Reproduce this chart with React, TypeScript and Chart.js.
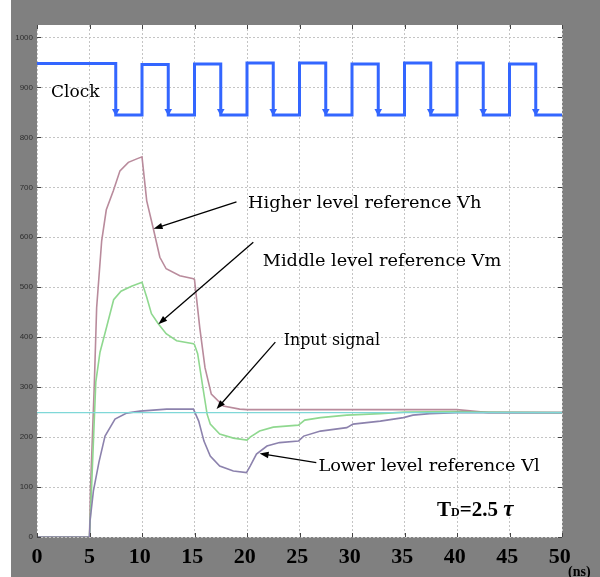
import { useEffect, useRef } from "react";
import { Chart, registerables } from "chart.js";

Chart.register(...registerables);

// ---------------- data ----------------
const xTicks = [0, 5, 10, 15, 20, 25, 30, 35, 40, 45, 50];
const yTicks = [0, 100, 200, 300, 400, 500, 600, 700, 800, 900, 1000];

const clockX = [0, 7.5, 7.5, 10, 10, 12.5, 12.5, 15, 15, 17.5, 17.5, 20, 20, 22.5, 22.5, 25, 25, 27.5, 27.5, 30, 30, 32.5, 32.5, 35, 35, 37.5, 37.5, 40, 40, 42.5, 42.5, 45, 45, 47.5, 47.5, 50];
const clockY = [948, 948, 845, 845, 946, 946, 845, 845, 947, 947, 845, 845, 949, 949, 845, 845, 949, 949, 845, 845, 947, 947, 845, 845, 949, 949, 845, 845, 949, 949, 845, 845, 947, 947, 845, 845];

const vhX = [0, 5, 5.1, 5.45, 5.68, 6.16, 6.6, 7.27, 7.9, 8.7, 9.5, 10, 10.45, 11.08, 11.7, 12.3, 13.6, 14.9, 15, 15.5, 16, 16.6, 17.75, 19.3, 20, 25, 30, 35, 40, 41.5, 43, 50];
const vhY = [0, 0, 100, 300, 459, 593, 655, 693, 733, 750, 757, 761, 673, 617, 560, 537, 523, 517, 515, 419, 339, 286, 262, 256, 255, 255, 255, 255, 255, 252, 249, 249];

const vmX = [0, 5, 5.2, 5.6, 6.0, 6.5, 7.3, 8, 9, 10, 10.45, 10.9, 11.55, 12.3, 13.3, 14.9, 15, 15.3, 15.8, 16.2, 16.5, 17.4, 18.7, 20, 20.3, 21.2, 22.5, 24.9, 25.5, 27, 29.5, 32.7, 35, 40, 42, 50];
const vmY = [0, 0, 100, 310, 370, 410, 475, 492, 502, 510, 480, 447, 427, 407, 393, 387, 385, 367, 299, 246, 226, 206, 198, 194, 200, 212, 220, 224, 234, 239, 244, 247, 250, 251, 250, 249];

const vlX = [0, 5, 5.05, 5.37, 5.9, 6.48, 7.43, 8.54, 9.8, 12.35, 14.9, 15.4, 15.9, 16.5, 17.4, 18.7, 19.95, 20.3, 20.9, 21.9, 23.1, 24.9, 25.4, 27, 29.5, 30.1, 32.7, 34.9, 35.8, 37.4, 40, 50];
const vlY = [0, 0, 32, 92, 150, 202, 236, 248, 252, 256, 256, 232, 192, 162, 142, 132, 129, 142, 166, 182, 189, 192, 202, 212, 219, 226, 232, 239, 244, 247, 249, 249];

const inputX = [0, 50];
const inputY = [249, 249];

const labelClock = "Clock";
const labelVh = "Higher level reference Vh";
const labelVm = "Middle level reference Vm";
const labelIn = "Input signal";
const labelVl = "Lower level reference Vl";

// annotation placement (data coordinates) and horizontal text stretch
const notes = [
  { text: labelVh, tx: 20.1, ty: 659, from: [19.0, 671], to: [11.1, 617], stretch: 1.075 },
  { text: labelVm, tx: 21.5, ty: 543, from: [20.6, 590], to: [11.55, 426], stretch: 1.075 },
  { text: labelIn, tx: 23.5, ty: 385, from: [22.7, 390], to: [17.1, 256], stretch: 0.96 },
  { text: labelVl, tx: 26.8, ty: 132, from: [26.6, 149], to: [21.2, 167], stretch: 1.075 },
];
const clockLabelPos = [1.33, 880];
const tdPos = [38.1, 42];

const zip = (xs: number[], ys: number[]) => xs.map((x, i) => ({ x, y: ys[i] }));

const SERIF = "'DejaVu Serif', serif";
const TIMES = "'Liberation Serif', 'Times New Roman', serif";

function arrow(ctx: CanvasRenderingContext2D, x0: number, y0: number, x1: number, y1: number) {
  const ang = Math.atan2(y1 - y0, x1 - x0);
  const len = 9;
  const hw = 3.2;
  ctx.save();
  ctx.strokeStyle = "#000";
  ctx.fillStyle = "#000";
  ctx.lineWidth = 1.3;
  ctx.beginPath();
  ctx.moveTo(x0, y0);
  ctx.lineTo(x1 - Math.cos(ang) * len * 0.8, y1 - Math.sin(ang) * len * 0.8);
  ctx.stroke();
  ctx.beginPath();
  ctx.moveTo(x1, y1);
  ctx.lineTo(x1 - Math.cos(ang) * len - Math.sin(ang) * hw, y1 - Math.sin(ang) * len + Math.cos(ang) * hw);
  ctx.lineTo(x1 - Math.cos(ang) * len + Math.sin(ang) * hw, y1 - Math.sin(ang) * len - Math.cos(ang) * hw);
  ctx.closePath();
  ctx.fill();
  ctx.restore();
}

const decorPlugin = {
  id: "decor",
  beforeDraw(chart: any) {
    const { ctx, chartArea: a, width, height } = chart;
    ctx.save();
    ctx.fillStyle = "#808080";
    ctx.fillRect(0, 0, width, height);
    ctx.fillStyle = "#ffffff";
    ctx.fillRect(0, 0, 11, height);
    ctx.fillRect(a.left, a.top, a.right - a.left, a.bottom - a.top);
    ctx.restore();
  },
  afterDatasetsDraw(chart: any) {
    const { ctx, chartArea: a } = chart;
    const xs = chart.scales.x;
    const ys = chart.scales.y;
    const px = (v: number) => xs.getPixelForValue(v);
    const py = (v: number) => ys.getPixelForValue(v);

    // clock arrowheads on falling edges
    ctx.save();
    ctx.fillStyle = "#3366ff";
    for (let i = 1; i < clockX.length; i++) {
      if (clockX[i] === clockX[i - 1] && clockY[i] < clockY[i - 1]) {
        const x = px(clockX[i]);
        const y = py(clockY[i]);
        ctx.beginPath();
        ctx.moveTo(x, y + 1);
        ctx.lineTo(x - 3.8, y - 6);
        ctx.lineTo(x + 3.8, y - 6);
        ctx.closePath();
        ctx.fill();
      }
    }
    ctx.restore();

    // tick marks inside the box
    ctx.save();
    ctx.strokeStyle = "#444";
    ctx.lineWidth = 1;
    xTicks.forEach((t) => {
      const x = Math.round(px(t)) + 0.5;
      ctx.beginPath();
      ctx.moveTo(x, a.bottom);
      ctx.lineTo(x, a.bottom - 4);
      ctx.moveTo(x, a.top);
      ctx.lineTo(x, a.top + 4);
      ctx.stroke();
    });
    yTicks.forEach((t) => {
      const y = Math.round(py(t)) + 0.5;
      ctx.beginPath();
      ctx.moveTo(a.left, y);
      ctx.lineTo(a.left + 4, y);
      ctx.moveTo(a.right, y);
      ctx.lineTo(a.right - 4, y);
      ctx.stroke();
    });
    ctx.restore();

    // text annotations
    ctx.save();
    ctx.fillStyle = "#000";
    ctx.textBaseline = "alphabetic";
    ctx.textAlign = "left";
    ctx.font = `17px ${SERIF}`;
    ctx.fillText(labelClock, px(clockLabelPos[0]), py(clockLabelPos[1]));
    notes.forEach((n) => {
      ctx.save();
      ctx.font = `16.5px ${SERIF}`;
      ctx.translate(px(n.tx), py(n.ty));
      ctx.scale(n.stretch, 1);
      ctx.fillText(n.text, 0, 0);
      ctx.restore();
      arrow(ctx, px(n.from[0]), py(n.from[1]), px(n.to[0]), py(n.to[1]));
    });

    // TD = 2.5 tau
    let x = px(tdPos[0]);
    const by = py(tdPos[1]);
    ctx.font = `bold 21px ${TIMES}`;
    ctx.fillText("T", x, by);
    x += ctx.measureText("T").width;
    ctx.font = `bold 12px ${TIMES}`;
    ctx.fillText("D", x, by);
    x += ctx.measureText("D").width;
    ctx.font = `bold 21px ${TIMES}`;
    ctx.fillText("=2.5 ", x, by);
    x += ctx.measureText("=2.5 ").width;
    ctx.font = `italic bold 23px ${TIMES}`;
    ctx.fillText("\u03C4", x, by);

    // (ns) unit
    ctx.font = `bold 14px ${TIMES}`;
    ctx.fillText("(ns)", px(50) + 6, a.bottom + 39);
    ctx.restore();
  },
};

export default function App() {
  const ref = useRef<HTMLCanvasElement | null>(null);

  useEffect(() => {
    if (!ref.current) return;
    const chart = new Chart(ref.current, {
      type: "line",
      data: {
        datasets: [
          { label: "Input signal", data: zip(inputX, inputY), borderColor: "#7fd8d8", borderWidth: 1.2, pointRadius: 0 },
          { label: "Vl", data: zip(vlX, vlY), borderColor: "#8c82ad", borderWidth: 1.6, pointRadius: 0 },
          { label: "Vm", data: zip(vmX, vmY), borderColor: "#8fd88f", borderWidth: 1.6, pointRadius: 0 },
          {
            label: "Vh",
            data: zip(vhX, vhY),
            borderColor: "#b98b9c",
            borderWidth: 1.6,
            pointRadius: 0,
            segment: {
              borderColor: (c: any) => (c.p0.parsed.y === 0 && c.p1.parsed.y === 0 ? "#e06a78" : undefined),
            },
          },
          { label: "Clock", data: zip(clockX, clockY), borderColor: "#3366ff", borderWidth: 3, pointRadius: 0 },
        ],
      },
      options: {
        animation: false,
        responsive: false,
        events: [],
        layout: { autoPadding: false, padding: { top: 25, right: 38, left: 0, bottom: 0 } },
        plugins: { legend: { display: false }, tooltip: { enabled: false } },
        scales: {
          x: {
            type: "linear",
            min: 0,
            max: 50,
            afterBuildTicks: (s: any) => {
              s.ticks = xTicks.map((v) => ({ value: v }));
            },
            afterFit: (s: any) => {
              s.height = 40;
            },
            ticks: {
              color: "#000",
              font: { family: "'Liberation Serif', serif", size: 22, weight: "bold" },
              padding: 7,
              maxRotation: 0,
              autoSkip: false,
              callback: (v: any) => (v >= 10 ? `${v}\u2009` : `${v}`),
            },
            grid: { color: "#c4c4c4", lineWidth: 1, drawTicks: false },
            border: { display: false, dash: [2, 2] },
          },
          y: {
            type: "linear",
            min: 0,
            max: 1025,
            afterBuildTicks: (s: any) => {
              s.ticks = yTicks.map((v) => ({ value: v }));
            },
            afterFit: (s: any) => {
              s.width = 37;
            },
            ticks: {
              color: "#2e2e2e",
              font: { family: "'Liberation Sans', sans-serif", size: 8 },
              padding: 4,
              autoSkip: false,
              callback: (v: any) => `${v}`,
            },
            grid: { color: "#c4c4c4", lineWidth: 1, drawTicks: false },
            border: { display: false, dash: [2, 2] },
          },
        },
      },
      plugins: [decorPlugin],
    } as any);
    return () => chart.destroy();
  }, []);

  return (
    <div style={{ position: "absolute", left: 0, top: 0, width: 600, height: 577 }}>
      <canvas ref={ref} width={600} height={577} style={{ width: 600, height: 577, display: "block" }} />
    </div>
  );
}
